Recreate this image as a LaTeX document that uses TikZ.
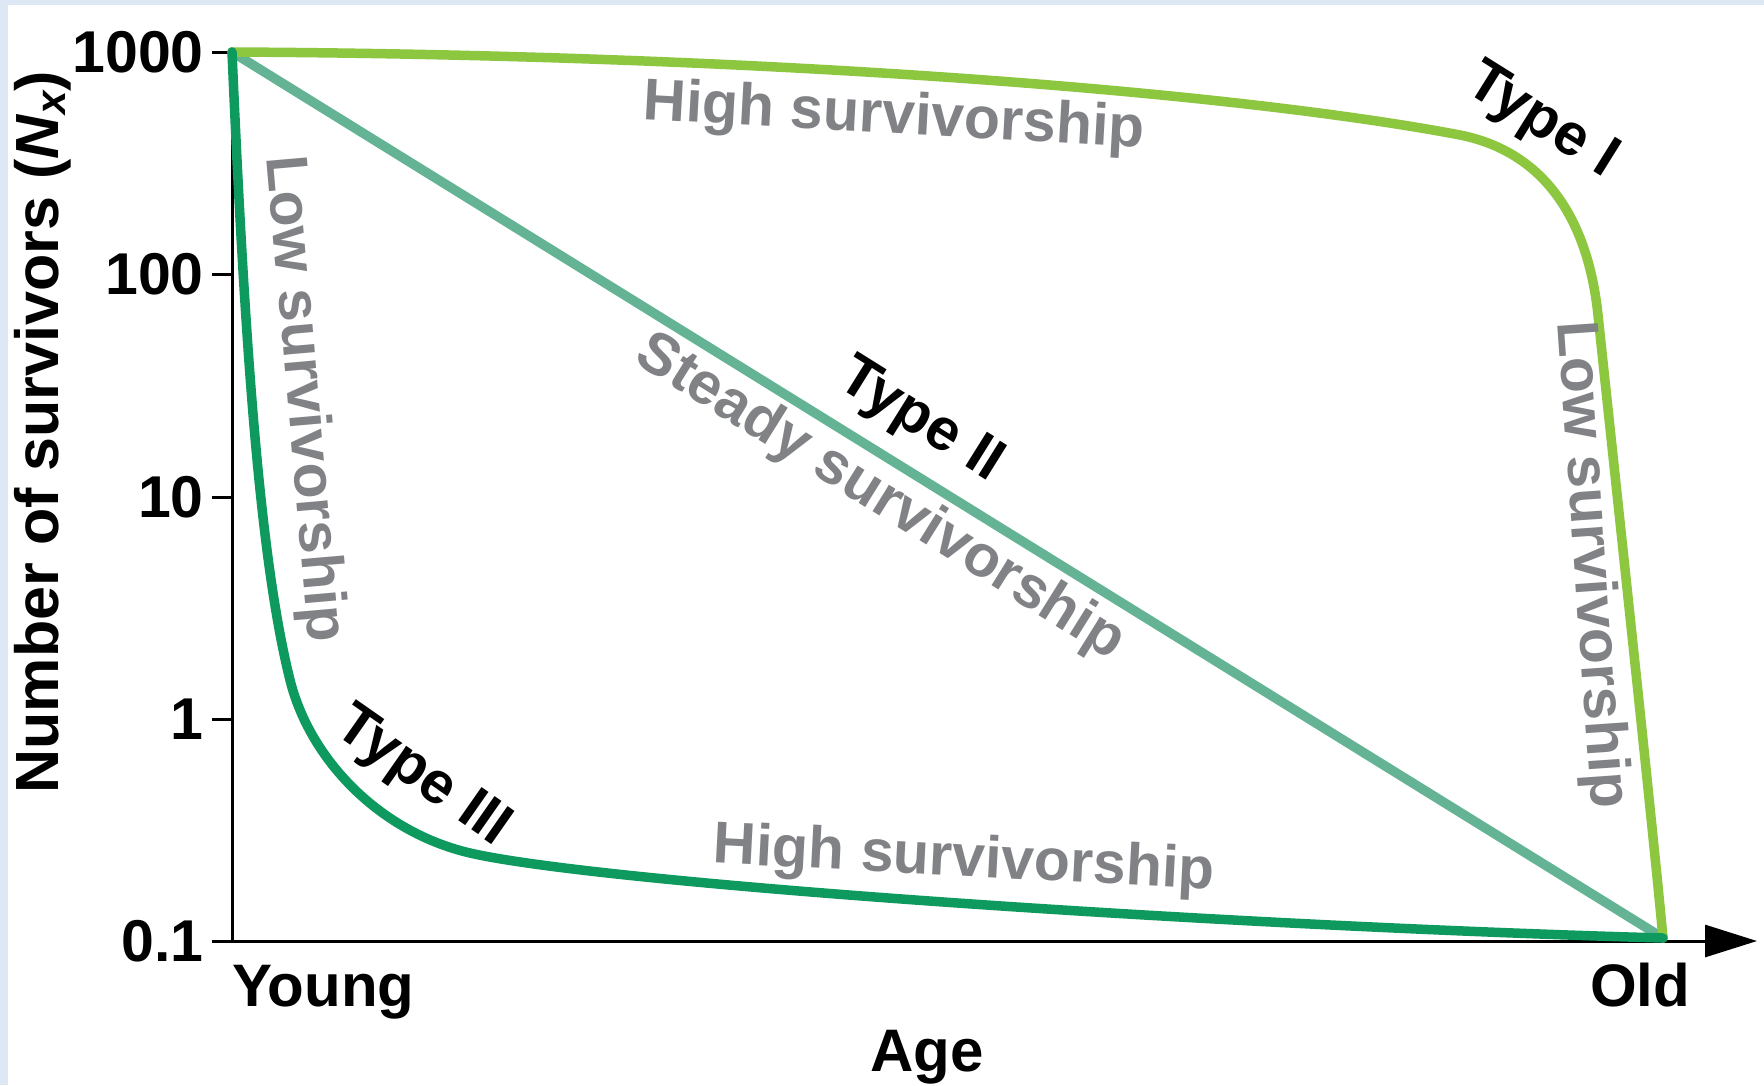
\documentclass[tikz,border=0pt]{standalone}
\usepackage{fontspec}
\setmainfont{Liberation Sans}
\usetikzlibrary{arrows.meta}
\definecolor{bgblue}{HTML}{DDE8F4}
\definecolor{typeone}{HTML}{8DC63F}
\definecolor{typetwo}{HTML}{63B394}
\definecolor{typethree}{HTML}{0E9A5E}
\definecolor{labelgray}{HTML}{808285}
\begin{document}
\begin{tikzpicture}[x=1pt,y=-1pt,
  lbl/.style={font=\fontsize{59}{62}\selectfont\bfseries, inner sep=0pt},
  axlbl/.style={font=\fontsize{60}{63}\selectfont\bfseries, inner sep=0pt},
  graylbl/.style={lbl, text=labelgray},
  blacklbl/.style={lbl, text=black},
  curve/.style={line width=9.5pt, line cap=round, line join=round},
  axisline/.style={line width=3pt, black},
]
\fill[bgblue] (0,0) rectangle (1764,1085);
\fill[white] (8,5) rectangle (1764,1085);
\useasboundingbox (0,0) rectangle (1764,1085);

\coordinate (O) at (232,941);
\coordinate (ytop) at (232,52);
\coordinate (xend) at (1757,941);
\coordinate (S) at (232,52);
\coordinate (E) at (1663,938);

% axes
\draw[axisline] (ytop) -- (O);
\draw[axisline, -{Triangle[length=52pt,width=32pt]}] (O) -- (xend);
\foreach \y/\t [count=\i] in {52/1000,274/100,497/10,719/1,941/0.1}{
  \coordinate (tk\i) at (212,\y);
  \coordinate (ta\i) at (232,\y);
  \draw[axisline] (tk\i) -- (ta\i);
  \node[lbl, anchor=east] (tick\i) at (204,\y) {\t};
}

% curves
\draw[curve, typetwo] (S) -- (E);
\draw[curve, typeone] (S) .. controls (800,55) and (1250,95) .. (1460,135)
  .. controls (1545,152) and (1588,220) .. (1598,315)
  .. controls (1608,410) and (1650,800) .. (E);
\draw[curve, typethree] (S) .. controls (245,350) and (260,560) .. (290,680)
  .. controls (310,760) and (380,832) .. (470,853)
  .. controls (600,883) and (1200,925) .. (E);

% labels
\node[graylbl, rotate=-3.2] (hs1) at (894,118) {High survivorship};
\node[blacklbl, rotate=-32] (t1) at (1541,122) {Type I};
\node[graylbl, rotate=-86] (ls2) at (1590,565) {Low survivorship};
\node[graylbl, rotate=-85] (ls1) at (303,399) {Low survivorship};
\node[blacklbl, rotate=-32] (t2) at (920,422) {Type II};
\node[graylbl, rotate=-32] (ss) at (880,498) {Steady survivorship};
\node[blacklbl, rotate=-35] (t3) at (422,778) {Type III};
\node[graylbl, rotate=-3] (hs3) at (964,861) {High survivorship};

\node[axlbl, anchor=base west] (young) at (232,1006) {Young};
\node[axlbl, anchor=base west] (old) at (1590,1006) {Old};
\node[axlbl, anchor=base] (age) at (927,1071) {Age};
\node[font=\fontsize{61}{64}\selectfont\bfseries, inner sep=0pt, rotate=90, anchor=base] (ylab) at (58,432) {Number of survivors (\textit{N}\raisebox{-0.12em}{\fontsize{42}{42}\selectfont\itshape x})};
\end{tikzpicture}
\end{document}
